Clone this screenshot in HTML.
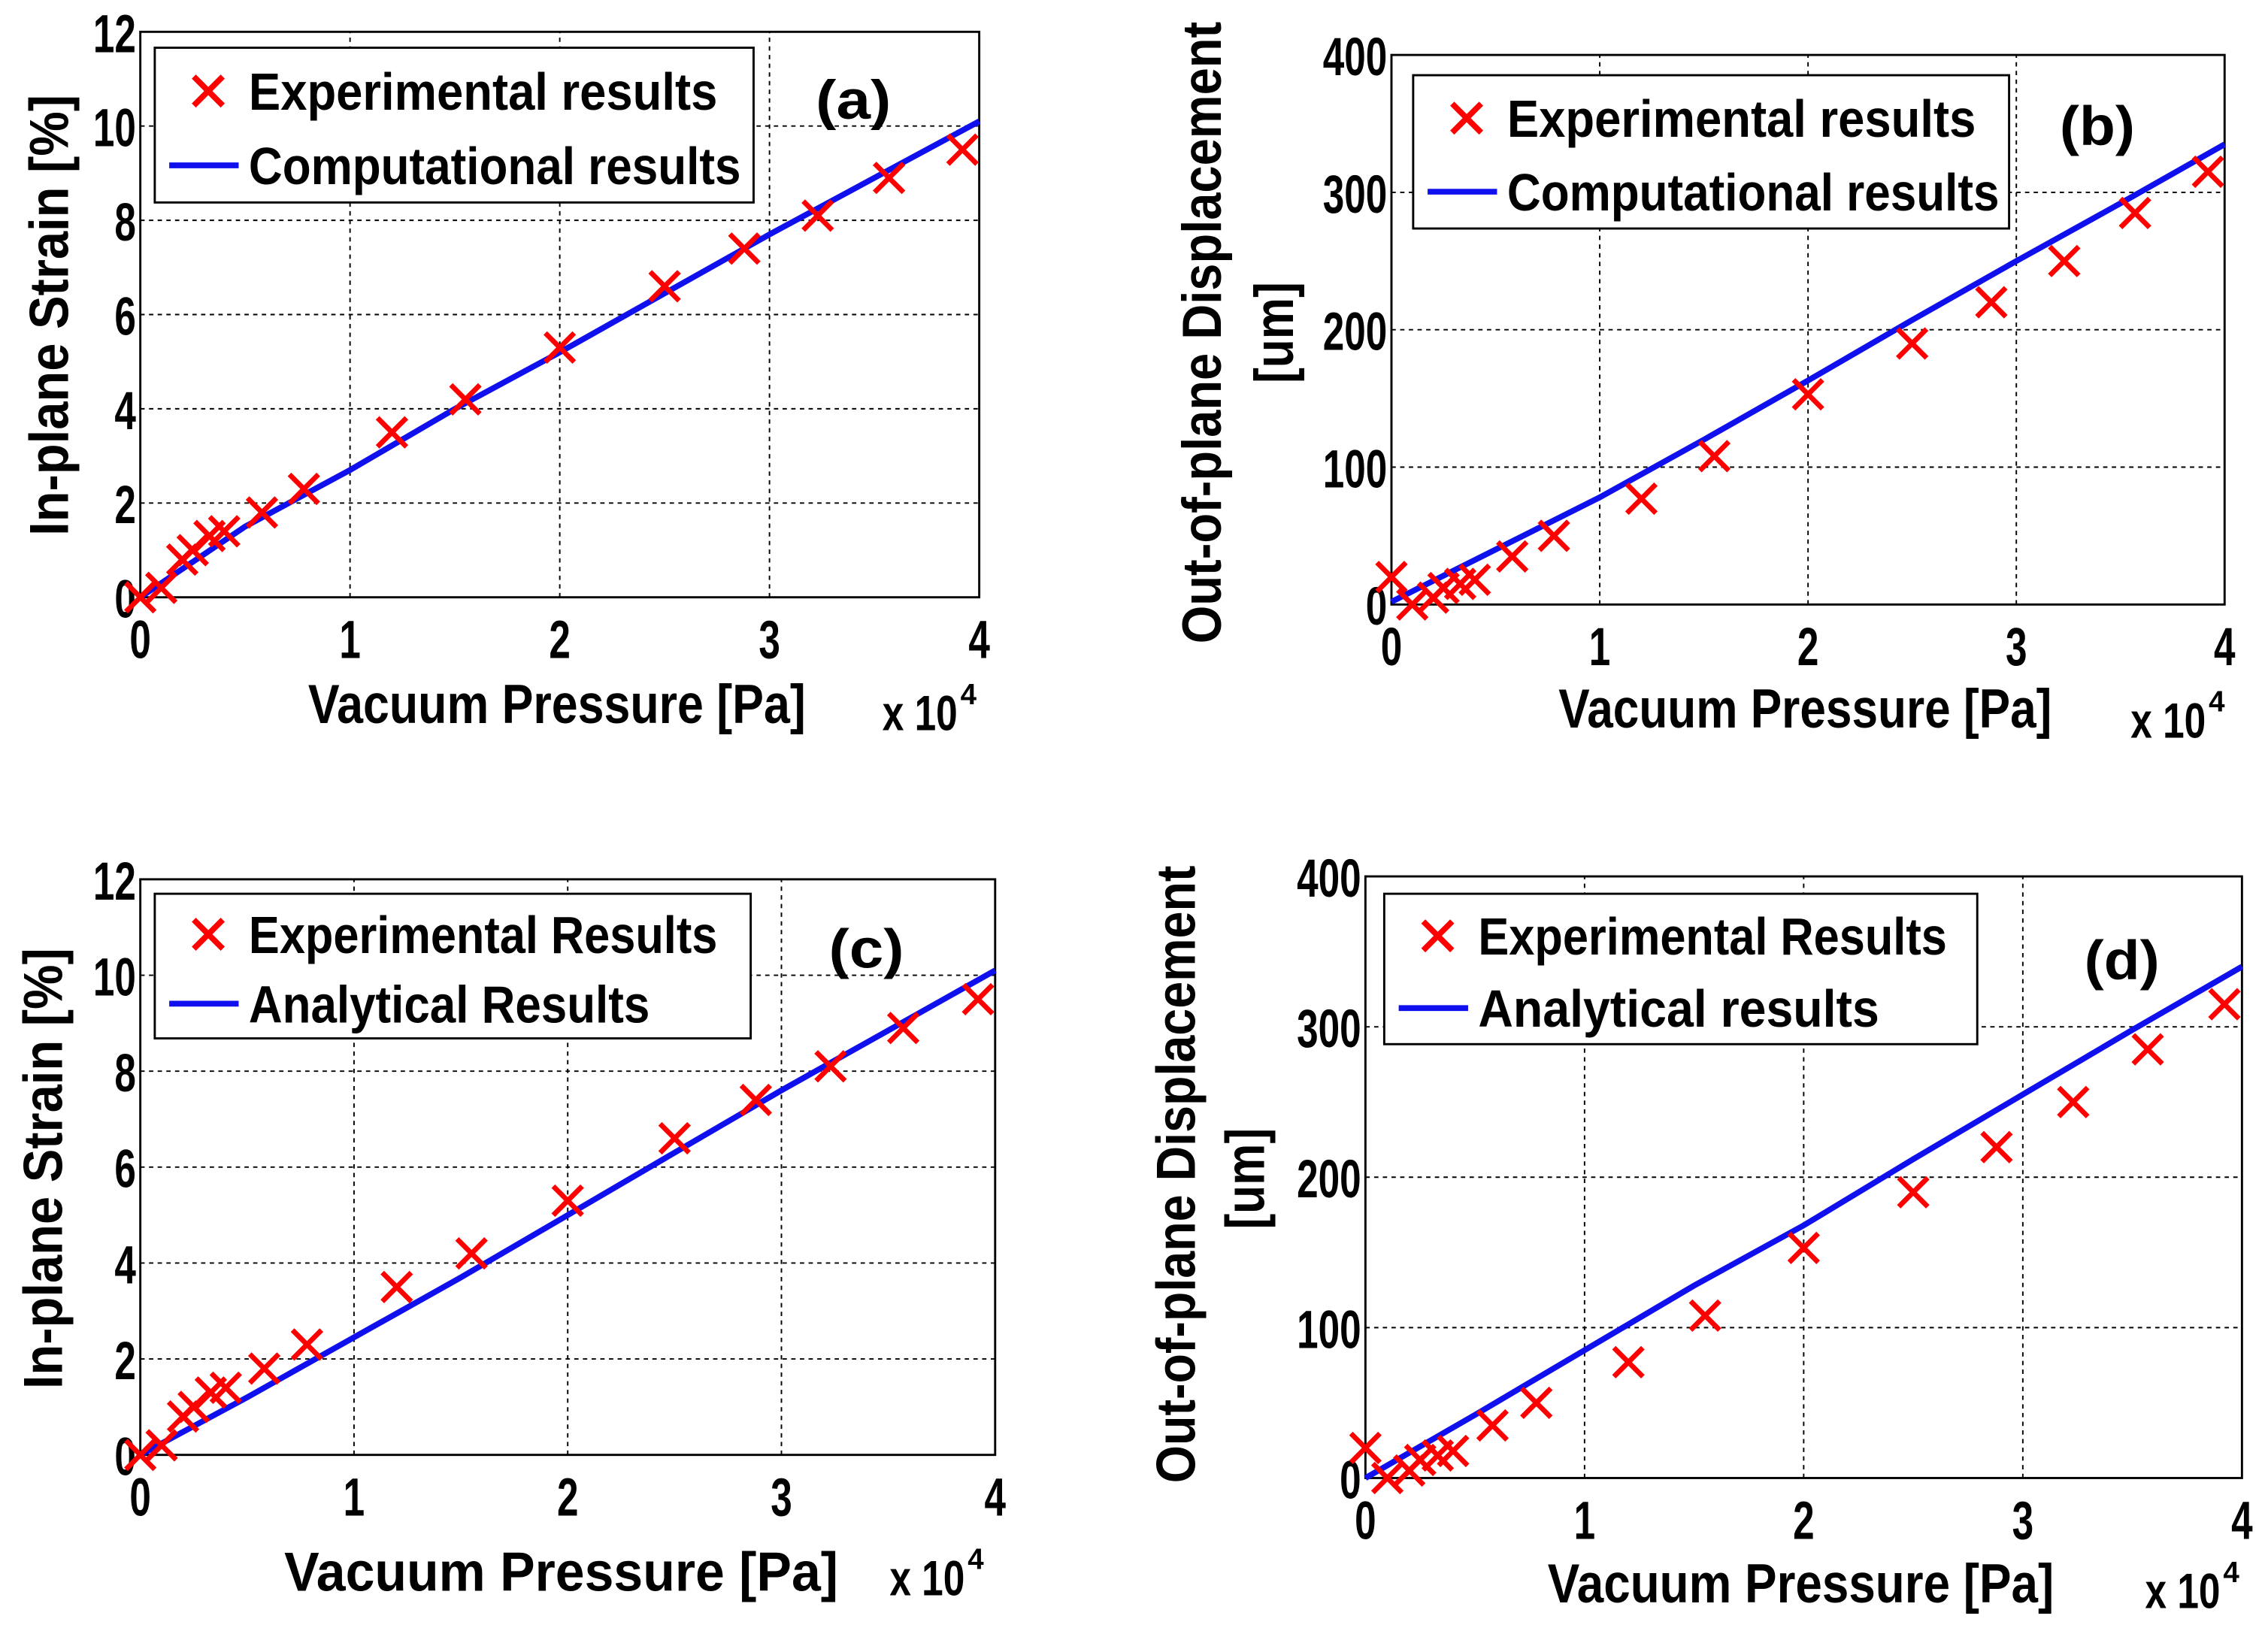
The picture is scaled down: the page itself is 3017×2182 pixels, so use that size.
<!DOCTYPE html>
<html><head><meta charset="utf-8"><style>
html,body{margin:0;padding:0;background:#fff;}
svg{display:block;}
text{font-family:"Liberation Sans Narrow","Liberation Sans",sans-serif;font-weight:bold;fill:#000;}
</style></head><body>
<svg id="fig" width="3017" height="2182" viewBox="0 0 1568 1134" preserveAspectRatio="none" xmlns="http://www.w3.org/2000/svg"></svg>
<script>
const expX = [0, 0.1, 0.2, 0.25, 0.33, 0.4, 0.58, 0.78, 1.2, 1.55, 2.0, 2.5, 2.88, 3.23, 3.57, 3.92];
const expStrain = [0, 0.2, 0.8, 1.0, 1.3, 1.4, 1.8, 2.3, 3.5, 4.2, 5.3, 6.6, 7.4, 8.1, 8.9, 9.5];
const expDisp = [20, 0, 5, 12, 15, 18, 35, 50, 77, 108, 153, 190, 220, 250, 285, 315];
const lineX = [0, 0.5, 1, 1.5, 2, 2.5, 3, 3.5, 4];
const compStrain = [0, 1.5, 2.7, 4.0, 5.2, 6.45, 7.7, 8.9, 10.1];
const anaStrain = [0, 1.2, 2.45, 3.7, 5.0, 6.3, 7.6, 8.85, 10.1];
const compDisp = [2, 40, 78, 120, 163, 207, 250, 292, 335];
const anaDisp = [0, 42, 85, 128, 168, 212, 255, 298, 340];
const xTicks = [0, 1, 2, 3, 4];
const strainTicks = [0, 2, 4, 6, 8, 10, 12];
const dispTicks = [0, 100, 200, 300, 400];

const NS = "http://www.w3.org/2000/svg";
const svg = document.getElementById('fig');
function mk(tag, attrs, parent){const e=document.createElementNS(NS,tag);for(const k in attrs)e.setAttribute(k,attrs[k]);(parent||svg).appendChild(e);return e;}
function txt(s,x,y,size,anchor,len,parent,rot){const t=mk('text',{x:x,y:y,'font-size':size,'text-anchor':anchor||'start'},parent);if(len){t.setAttribute('textLength',len);t.setAttribute('lengthAdjust','spacingAndGlyphs');}if(rot)t.setAttribute('transform','rotate(-90 '+x+' '+y+')');t.textContent=s;return t;}

const panels = [
 {id:'a',x0:97,x1:677,y0:413,y1:22,ymax:12,yt:strainTicks,ex:expStrain,ln:compStrain,
  leg:[107,33,414,107],l1:'Experimental results',l2:'Computational results',tag:[590,82],
  xl:[385,500,344],xe:[610,505],yl:['In-plane Strain [%]',47,218,305],yl2:null},
 {id:'b',x0:962,x1:1538,y0:418,y1:38,ymax:400,yt:dispTicks,ex:expDisp,ln:compDisp,
  leg:[977,52,412,106],l1:'Experimental results',l2:'Computational results',tag:[1450,100],
  xl:[1248,503,341],xe:[1473,510],yl:['Out-of-plane Displacement',844,230,430],yl2:['[um]',894,230,70]},
 {id:'c',x0:97,x1:688,y0:1006,y1:608,ymax:12,yt:strainTicks,ex:expStrain,ln:anaStrain,
  leg:[107,618,412,100],l1:'Experimental Results',l2:'Analytical Results',tag:[599,669],
  xl:[388,1100,383],xe:[615,1103],yl:['In-plane Strain [%]',43,808,305],yl2:null},
 {id:'d',x0:944,x1:1550,y0:1022,y1:606,ymax:400,yt:dispTicks,ex:expDisp,ln:anaDisp,
  leg:[957,618,410,104],l1:'Experimental Results',l2:'Analytical results',tag:[1467,677],
  xl:[1245,1108,350],xe:[1483,1112],yl:['Out-of-plane Displacement',826,812,427],yl2:['[um]',874,815,70]}
];

panels.forEach(p=>{
  const g = mk('g',{});
  
  
  const sx = v => p.x0 + (p.x1-p.x0)*v/4;
  const sy = v => p.y0 + (p.y1-p.y0)*v/p.ymax;
  xTicks.forEach(t=>{ if(t>0&&t<4){const l=mk('line',{x1:sx(t),x2:sx(t),y1:p.y0,y2:p.y1,stroke:'#000','stroke-width':1,'stroke-dasharray':'3,3'},g);}});
  p.yt.forEach(t=>{ if(t>0&&t<p.ymax){const l=mk('line',{x1:p.x0,x2:p.x1,y1:sy(t),y2:sy(t),stroke:'#000','stroke-width':1,'stroke-dasharray':'3,3'},g);}});
  const box=mk('rect',{x:p.x0,y:p.y1,width:p.x1-p.x0,height:p.y0-p.y1,fill:'none',stroke:'#000','stroke-width':1.5},g);
  
  xTicks.forEach(t=>{const e=txt(String(t),sx(t),p.y0+42,37,'middle',null,g);e.setAttribute('transform','translate('+sx(t)+' 0) scale(0.72 1) translate('+(-sx(t))+' 0)');});
  p.yt.forEach(t=>{const e=txt(String(t),p.x0-3,sy(t)+14,37,'end',null,g);e.setAttribute('transform','translate('+(p.x0-3)+' 0) scale(0.72 1) translate('+(-(p.x0-3))+' 0)');});
  const d = lineX.map((v,i)=>(i?'L':'M')+sx(v).toFixed(1)+','+sy(p.ln[i]).toFixed(1)).join(' ');
  const path=mk('path',{d:d,fill:'none',stroke:'#1010ee','stroke-width':4},g);
  
  expX.forEach((v,i)=>{const cx=sx(v),cy=sy(p.ex[i]),r=10;
    const m=mk('path',{d:`M${cx-r},${cy-r}L${cx+r},${cy+r}M${cx-r},${cy+r}L${cx+r},${cy-r}`,stroke:'#ff0000','stroke-width':3.5,fill:'none'},g);
    });
  const [lx,ly,lw,lh]=p.leg;
  const lg=mk('g',{},g);
  mk('rect',{x:lx,y:ly,width:lw,height:lh,fill:'#fff',stroke:'#000','stroke-width':1.5},lg);
  const r1=ly+lh*0.28, r2=ly+lh*0.76;
  mk('path',{d:`M${lx+27},${r1-10}L${lx+47},${r1+10}M${lx+27},${r1+10}L${lx+47},${r1-10}`,stroke:'#ff0000','stroke-width':4,fill:'none'},lg);
  mk('line',{x1:lx+10,x2:lx+58,y1:r2,y2:r2,stroke:'#1010ee','stroke-width':4},lg);
  const e1=txt(p.l1,lx+65,r1+13,36,'start',(p.l1.length*16.2),lg);
  const e2=txt(p.l2,lx+65,r2+13,36,'start',(p.l2.length*(p.l2==='Computational results'?16.2:15.4)),lg);
  const tg=txt('('+p.id+')',p.tag[0],p.tag[1],38,'middle',52,g);
  const xl=txt('Vacuum Pressure [Pa]',p.xl[0],p.xl[1],38,'middle',p.xl[2],g);
  const xe=txt('x 10',p.xe[0],p.xe[1],34,'start',52,g);
  const xs=txt('4',p.xe[0]+54,p.xe[1]-18,20,'start',null,g);
  const yl=txt(p.yl[0],p.yl[1],p.yl[2],38,'middle',p.yl[3],g,true);
  if(p.yl2){const y2=txt(p.yl2[0],p.yl2[1],p.yl2[2],38,'middle',p.yl2[3],g,true);}
});
</script>
</body></html>
